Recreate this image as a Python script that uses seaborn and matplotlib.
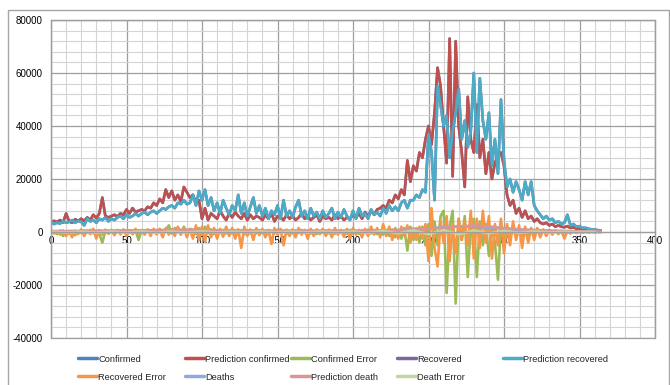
import numpy as np
import pandas as pd
import matplotlib
matplotlib.use("Agg")
import matplotlib.pyplot as plt
import seaborn as sns
from matplotlib.ticker import MultipleLocator
from matplotlib.lines import Line2D
from matplotlib.patches import Rectangle

# ---------------- data (every 2 days) ----------------
days = list(range(0, 366, 2))

pred_confirmed = [
    3500, 4200, 3800, 4500, 3600, 7000, 4000, 3500, 4800, 4200,
    5000, 4200, 5500, 4500, 6500, 5200, 7000, 13000, 6000, 5500,
    6000, 6500, 5800, 7000, 6500, 8500, 7000, 9000, 7500, 8000,
    8500, 8000, 9500, 9000, 11000, 10000, 12500, 11000, 16000, 13000,
    15500, 12000, 14000, 11500, 17000, 15000, 13000, 14000, 11000, 12000,
    5000, 9000, 4500, 7000, 6000, 5000, 8000, 6000, 4500, 7000,
    5500, 7500, 6000, 5000, 7000, 4500, 6500, 5000, 6000, 5500,
    4500, 6500, 5000, 7000, 4000, 6000, 5500, 4500, 6500, 5000,
    6000, 4500, 5500, 7000, 5000, 6000, 4500, 5500, 6500, 4000,
    6000, 5000, 5500, 4500, 6500, 5000, 6000, 4500, 5500, 5000,
    6500, 5500, 7000, 5000, 7500, 6000, 8000, 6500, 8500, 9000,
    10000, 9000, 12000, 11000, 14000, 12500, 16000, 14000, 27000, 19000,
    25000, 23000, 30000, 28000, 35000, 40000, 33000, 45000, 62000, 55000,
    40000, 26000, 73000, 21000, 72000, 40000, 30000, 17000, 51000, 35000,
    30000, 48000, 28000, 35000, 22000, 30000, 20000, 26000, 29000, 30000,
    25000, 14000, 10000, 12000, 7000, 9000, 5500, 8000, 5000, 6000,
    4000, 5000, 3500, 3000, 3500, 2500, 3000, 2000, 2500, 2000,
    1800, 2200, 1500, 1800, 1200, 1400, 1000, 1100, 900, 800,
    700, 600, 500,
]

pred_recovered = [
    4000, 3000, 3500, 3200, 4000, 3500, 3800, 4500, 3500, 4200,
    3800, 2500, 5000, 4000, 4500, 3500, 5000, 4500, 5500, 4000,
    5000, 4500, 5500, 6000, 5000, 6500, 5500, 6000, 7000, 6000,
    7000, 7500, 6500, 7500, 8000, 7000, 8000, 9000, 8500, 9500,
    10000, 9000, 11000, 10500, 12000, 10500, 11000, 14000, 10000, 15500,
    12000, 16000, 10000, 13000, 8000, 11000, 7000, 12000, 9000, 6500,
    10000, 8000, 14000, 7000, 11000, 6000, 9500, 13000, 7000, 10000,
    6000, 9000, 5000, 8000, 6500, 10000, 5000, 12000, 6000, 8000,
    5500, 9500, 12000, 6000, 8000, 5000, 9000, 6000, 7500, 5000,
    8000, 5500, 7000, 9000, 5000, 7500, 5500, 8500, 6000, 4500,
    8000, 5000, 9000, 6000, 7000, 5000, 8500, 6500, 7500, 6000,
    9000, 7000, 10000, 8000, 9500, 8000, 11000, 12000, 9000, 12000,
    12000, 14000, 13000, 16000, 15000, 37000, 30000, 12000, 55000, 48000,
    40000, 44000, 28000, 38000, 45000, 54000, 35000, 42000, 32000, 38000,
    60000, 30000, 58000, 42000, 35000, 45000, 25000, 35000, 22000, 50000,
    27000, 17000, 20000, 15000, 19000, 16000, 12000, 19000, 14000, 19000,
    10000, 8000, 6500, 5000, 6000, 4500, 5000, 3500, 4000, 3000,
    3500, 6500, 2500, 3000, 2000, 2200, 1500, 1600, 1200, 1000,
    900, 700, 600,
]

confirmed_error = [
    -500, 300, -800, 500, -1500, 200, -600, 400, -1200, 300,
    -400, 600, -300, 800, -500, 200, -700, -4000, 400, -600,
    300, -500, 800, -300, 600, -900, 400, -500, 700, -3000,
    500, -400, 900, -600, 300, -800, 1200, -500, 800, 2500,
    -600, 1500, 900, -1000, 2000, -500, 1200, 800, -800, 1500,
    -1000, 2000, -500, 1000, -800, 600, -400, 800, -600, 400,
    -500, 700, -300, 500, -900, 400, -600, 300, -500, 700,
    -400, 500, -800, 300, -600, 900, -300, 500, -700, 400,
    -500, 600, -400, 800, -300, 500, -600, 300, -800, 400,
    -300, 600, -500, 400, -700, 300, -400, 500, -600, 800,
    -500, 300, -700, 500, -400, 900, -600, 400, -800, 600,
    -1000, 700, -1500, 1000, -2000, 800, -2500, 1500, -7000, 2000,
    -3000, 1500, -4000, 2000, -5000, 3000, -9000, 4000, -5000, 6000,
    8000, -23000, 2000, 8000, -27000, 5000, -3000, 6000, -17000, 3000,
    5000, -17000, 4000, -5000, 3000, -9000, 2000, -4000, -18000, 3000,
    -3000, 2000, -2500, 1500, -2000, 1000, -1500, 1200, -1000, 800,
    -800, 600, -700, 500, -600, 400, -500, 300, -400, 300,
    -300, 200, -300, 200, -200, 150, -150, 100, -100, 100,
    -80, 50, -50,
]

recovered_error = [
    800, -600, 400, -1000, 600, -1500, 300, -2000, 500, -800,
    1000, -1500, 600, -800, 1200, -2500, 700, -1000, 900, -600,
    800, -1200, 600, -900, 1000, -1500, 500, -800, 1200, -600,
    700, -1000, 900, -1500, 1200, -800, 600, -2000, 1500, -1000,
    1000, -1500, 2000, -800, 1500, -2000, 1000, -2500, 2500, -3000,
    2000, -3500, 2500, -2000, 1500, -2500, 1200, -1800, 2000, -1500,
    1500, -2500, 1000, -6000, 2000, -1500, 1000, -3000, 1500, -1200,
    1200, -2000, 800, -4500, 1500, -1000, 1200, -5000, 900, -1500,
    1000, -2000, 1500, -1000, 800, -2500, 1200, -1500, 1000, -800,
    1200, -1500, 900, -2000, 1500, -1000, 800, -1800, 1200, -2500,
    1500, -1000, 800, -2000, 1200, -1500, 2000, -1000, 1500, -2000,
    3000, -1500, 2000, -3000, 1500, -2500, 2000, -1500, 2500, -4000,
    1500, -3000, 2000, -2500, 3000, -11000, 9000, -6000, -13000, 4000,
    -4000, 6000, -11000, 3000, -8000, 5000, -3000, 4000, -5000, 8000,
    -10000, 5000, -6000, 8000, -4000, 6000, -10000, 3000, -5000, 5000,
    -8000, 3000, -5000, 4000, -3000, 2500, -6000, 2000, -4000, 1500,
    -3000, 1500, -2000, 1000, -1500, 800, -1000, 600, -800, 500,
    -2500, 400, -600, 300, -400, 200, -300, 150, -200, 100,
    -100, 50, -50,
]

pred_death = [
    300, 350, 300, 400, 350, 300, 400, 350, 400, 350,
    400, 450, 400, 450, 500, 450, 500, 450, 500, 550,
    500, 550, 500, 550, 600, 550, 600, 550, 600, 650,
    600, 650, 700, 650, 700, 750, 700, 750, 800, 750,
    800, 850, 800, 850, 900, 850, 800, 850, 800, 750,
    700, 750, 700, 650, 700, 650, 600, 650, 600, 650,
    600, 550, 600, 550, 600, 550, 500, 550, 500, 550,
    500, 550, 500, 450, 500, 450, 500, 450, 500, 450,
    500, 450, 500, 450, 400, 450, 400, 450, 400, 450,
    400, 450, 400, 450, 400, 450, 400, 450, 400, 450,
    450, 500, 450, 500, 550, 500, 550, 600, 550, 600,
    650, 600, 700, 650, 750, 700, 800, 750, 850, 900,
    950, 1000, 1100, 1050, 1200, 1300, 1250, 1400, 1500, 1600,
    1700, 1600, 1800, 1900, 2000, 1900, 2100, 2200, 2300, 2400,
    2500, 2400, 2300, 2200, 2100, 2000, 1900, 1800, 1700, 1600,
    1500, 1400, 1300, 1200, 1100, 1000, 950, 900, 850, 800,
    750, 700, 650, 600, 550, 500, 480, 450, 420, 400,
    380, 360, 340, 320, 300, 280, 260, 240, 220, 200,
    180, 160, 150,
]

# hidden series (drawn underneath the predictions, as in the reference)
confirmed = list(pred_confirmed)
recovered = list(pred_recovered)

days10 = list(range(0, 361, 10))
deaths = [200, 250, 300, 350, 400, 450, 500, 550, 600, 650, 600, 550, 500,
          450, 400, 400, 380, 380, 360, 360, 400, 450, 550, 700, 900, 1300,
          1800, 2100, 2000, 1600, 1200, 800, 500, 350, 250, 180, 150]
death_error = [100, -150, 120, -200, 150, -180, 200, -250, 150, -200, 180,
               -150, 120, -100, 150, -120, 100, -130, 110, -150, 200, -300,
               400, -500, 600, -800, 700, -900, 600, -500, 400, -300, 200,
               -150, 100, -80, 50]

labels = ["Confirmed", "Prediction confirmed", "Confirmed Error", "Recovered",
          "Prediction recovered", "Recovered Error", "Deaths",
          "Prediction death", "Death Error"]
colors = ["#4F81BD", "#C0504D", "#9BBB59", "#8064A2", "#4BACC6",
          "#F79646", "#8FAADC", "#D99694", "#C3D69B"]
x_ticks = [0, 50, 100, 150, 200, 250, 300, 350, 400]
y_ticks = [-40000, -20000, 0, 20000, 40000, 60000, 80000]

series = [(days, confirmed), (days, pred_confirmed), (days, confirmed_error),
          (days, recovered), (days, pred_recovered), (days, recovered_error),
          (days10, deaths), (days, pred_death), (days10, death_error)]

# ---------------- figure ----------------
sns.set_style("white")
plt.rcParams['font.family'] = ['Liberation Sans', 'DejaVu Sans']

fig = plt.figure(figsize=(6.7, 3.85), dpi=100)
fig.add_artist(Rectangle((8 / 670, -0.02), 661 / 670, 1.02 - 10 / 385,
                         transform=fig.transFigure, fill=False,
                         edgecolor="#A6A6A6", lw=1.0))
ax = fig.add_axes([51 / 670, 1 - 338 / 385, 604 / 670, 318 / 385])

for (xs, ys), lab, col in zip(series, labels, colors):
    df = pd.DataFrame({"day": xs, "value": ys})
    sns.lineplot(data=df, x="day", y="value", ax=ax, color=col, lw=1.9,
                 legend=False)

ax.set_xlim(0, 400)
ax.set_ylim(-40000, 80000)
ax.set_xticks(x_ticks)
ax.set_yticks(y_ticks)
ax.set_yticklabels([str(v) for v in y_ticks])
ax.set_xticklabels([str(v) for v in x_ticks])
ax.xaxis.set_minor_locator(MultipleLocator(10))
ax.yaxis.set_minor_locator(MultipleLocator(4000))
ax.set_axisbelow(True)
ax.grid(which="major", color="#9E9E9E", lw=0.9)
ax.grid(which="minor", color="#D4D4D4", lw=0.8)
ax.set_xlabel("")
ax.set_ylabel("")

for s in ["top", "right", "left"]:
    ax.spines[s].set_color("#9E9E9E")
    ax.spines[s].set_linewidth(0.9)
ax.spines["bottom"].set_position(("data", 0))
ax.spines["bottom"].set_color("#9E9E9E")
ax.spines["bottom"].set_linewidth(0.9)
ax.add_patch(Rectangle((0, 0), 1, 1, transform=ax.transAxes, fill=False,
                       edgecolor="#9E9E9E", lw=0.9, clip_on=False, zorder=0.5))

ax.tick_params(axis="both", which="both", length=0, labelsize=7,
               colors="#000000")
ax.tick_params(axis="y", pad=6)
ax.tick_params(axis="x", pad=3)

# legend: 2 rows x 5 columns at fixed Excel positions
col_x = [78, 185, 291, 397, 503]
row_y = [359, 377]
for i, (lab, col) in enumerate(zip(labels, colors)):
    r, c = divmod(i, 5)
    h = Line2D([0], [0], color=col, lw=2.5)
    fig.legend(handles=[h], labels=[lab], loc="center left",
               bbox_to_anchor=(col_x[c] / 670, 1 - row_y[r] / 385),
               frameon=False, fontsize=6.7, handlelength=2.0,
               handletextpad=0.2, borderpad=0, borderaxespad=0)

fig.savefig("out.png", dpi=100)
